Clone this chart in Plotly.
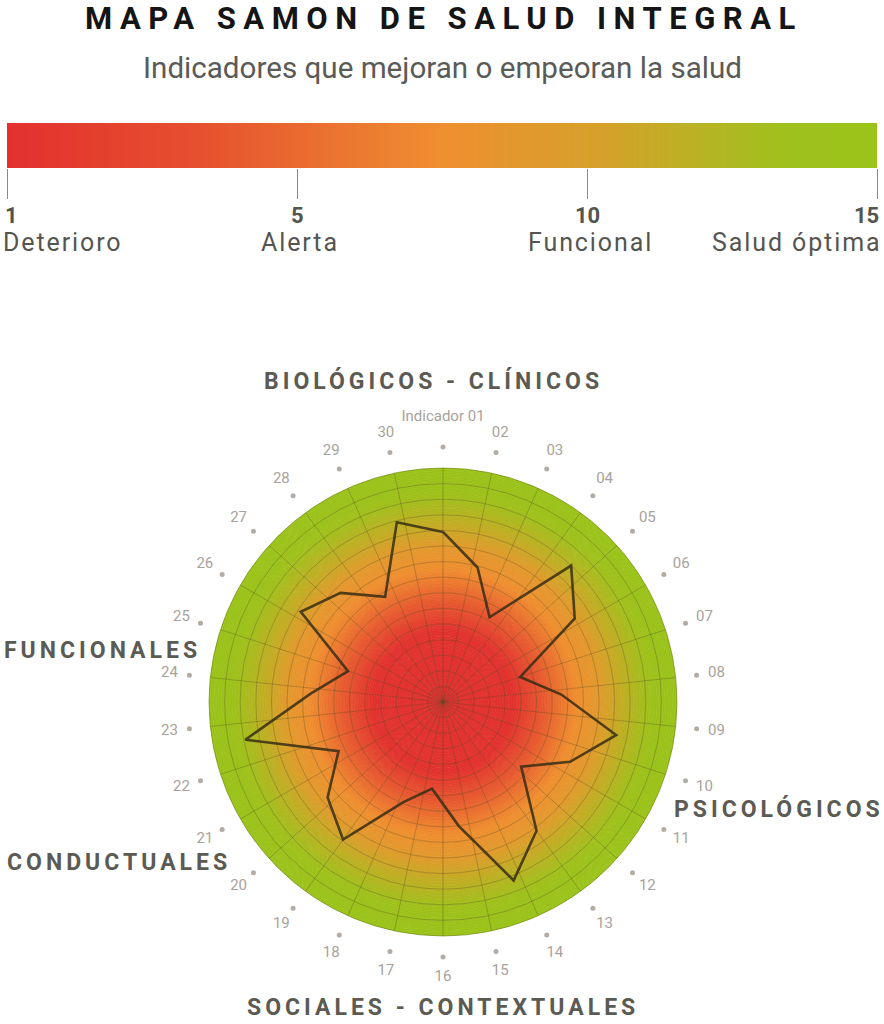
import numpy as np
import plotly.graph_objects as go

# ---------------- data ----------------
TITLE = "MAPA SAMON DE SALUD INTEGRAL"
SUBTITLE = "Indicadores que mejoran o empeoran la salud"

SCALE_TICKS = ["1", "5", "10", "15"]
SCALE_NAMES = ["Deterioro", "Alerta", "Funcional", "Salud óptima"]

INDICATOR_LABELS = ["Indicador 01", "02", "03", "04", "05", "06", "07", "08", "09", "10",
                    "11", "12", "13", "14", "15", "16", "17", "18", "19", "20",
                    "21", "22", "23", "24", "25", "26", "27", "28", "29", "30"]

SCORES = [10.9, 8.9, 6.2, 12.0, 10.0, 5.2, 7.6, 11.3, 9.0, 6.5,
          10.2, 12.3, 8.0, 5.6, 6.9, 10.9, 9.6, 7.4, 12.9, 8.5,
          6.4, 10.8, 9.6, 7.7, 11.9]

SECTIONS = ["BIOLÓGICOS - CLÍNICOS", "PSICOLÓGICOS", "SOCIALES - CONTEXTUALES",
            "CONDUCTUALES", "FUNCIONALES"]

R_MAX = 15
R_OUTER = 20   # range of the invisible label ring subplot

# ---------------- styling helpers ----------------
W, H = 884, 1024


def px(x):
    return x / W


def py(y):
    return 1 - y / H


def spaced(text, ls):
    return f'<span style="letter-spacing:{ls}px">{text}</span>'


FONT = "Roboto"
BAR_SCALE = [[0.0, "#E3302F"], [0.22, "#E6502F"], [0.5, "#EF8F30"],
             [0.68, "#D6A02A"], [0.8, "#B8B324"], [0.9, "#9EC21B"], [1.0, "#9BC31A"]]
POLAR_SCALE = [[0.0, "#E1302F"], [0.30, "#E2322F"], [0.43, "#E75A30"], [0.57, "#EF8E30"],
               [0.67, "#E29A2D"], [0.77, "#C0AE24"], [0.87, "#A2BF1C"], [0.92, "#9CC21A"],
               [1.0, "#9BC31A"]]

fig = go.Figure()

# ---------------- gradient bar (top) ----------------
n_cells = 300
edges = np.linspace(0, 1, n_cells + 1)
centers = (edges[:-1] + edges[1:]) / 2
fig.add_trace(go.Heatmap(
    x=edges, y=[0, 1], z=[centers], colorscale=BAR_SCALE, zmin=0, zmax=1,
    showscale=False, hoverinfo="skip", xaxis="x", yaxis="y"))

tick_pos = [i / (len(SCALE_TICKS) - 1) for i in range(len(SCALE_TICKS))]
anchors = ["left", "center", "center", "right"]
for pos, tk, nm, anc in zip(tick_pos, SCALE_TICKS, SCALE_NAMES, anchors):
    fig.add_annotation(x=pos, xref="x", y=py(215), yref="paper", text=tk,
                       showarrow=False, xanchor=anc, yanchor="middle",
                       xshift=-4 if anc == "left" else (4 if anc == "right" else 0),
                       font=dict(family=FONT, size=22, color="#555550", weight=700))
    fig.add_annotation(x=pos, xref="x", y=py(242), yref="paper",
                       text=spaced(nm, 1.9), showarrow=False, xanchor=anc, yanchor="middle",
                       xshift=-6 if anc == "left" else (6 if anc == "right" else 3),
                       font=dict(family=FONT, size=25, color="#555550"))

# ---------------- polar gradient disc ----------------
n_rings = 150
ring_w = R_MAX / n_rings
ring_base = []
ring_theta = []
ring_col = []
for i in range(n_rings):
    for th in (90, 270):
        ring_base.append(i * ring_w)
        ring_theta.append(th)
        ring_col.append((i + 0.5) * ring_w)
fig.add_trace(go.Barpolar(
    r=[ring_w] * len(ring_base), base=ring_base, theta=ring_theta, width=[180] * len(ring_base),
    marker=dict(color=ring_col, colorscale=POLAR_SCALE, cmin=0, cmax=R_MAX,
                line=dict(color=ring_col, colorscale=POLAR_SCALE, cmin=0, cmax=R_MAX, width=0.8)),
    hoverinfo="skip", subplot="polar", showlegend=False))

# ---------------- score line ----------------
n = len(SCORES)
theta_scores = [i * 360 / n for i in range(n)]
fig.add_trace(go.Scatterpolar(
    r=SCORES + SCORES[:1], theta=theta_scores + theta_scores[:1], mode="lines",
    line=dict(color="rgba(55,45,20,0.85)", width=2.6), subplot="polar2",
    hoverinfo="skip", showlegend=False))

# ---------------- indicator dots and labels (same px/unit, larger range) ----------------
cx, cy, rad = 443, 702, 234
m = len(INDICATOR_LABELS)
theta_lab = [i * 360 / m for i in range(m)]
r_dot = 255 / rad * R_MAX
r_lab = 275 / rad * R_MAX
r_lab0 = 285 / rad * R_MAX
fig.add_trace(go.Scatterpolar(
    r=[r_dot] * m, theta=theta_lab, mode="markers",
    marker=dict(size=5, color="#B3ACA5"), cliponaxis=False, subplot="polar3",
    hoverinfo="skip", showlegend=False))
fig.add_trace(go.Scatterpolar(
    r=[r_lab0] + [r_lab] * (m - 1), theta=theta_lab, mode="text", text=INDICATOR_LABELS,
    textposition="middle center", textfont=dict(family=FONT, size=15, color="#A8A29C"),
    cliponaxis=False, subplot="polar3", hoverinfo="skip", showlegend=False))

# ---------------- section labels ----------------
sec_pos = [
    (433, 381, "center"),
    (672, 809, "left"),
    (443, 1007, "center"),
    (5, 862, "left"),
    (2, 650.5, "left"),
]
for txt, (x, y, anc) in zip(SECTIONS, sec_pos):
    fig.add_annotation(x=px(x), y=py(y), xref="paper", yref="paper", text=spaced(txt, 4.0),
                       showarrow=False, xanchor=anc, yanchor="middle",
                       font=dict(family=FONT, size=23, color="#5B5A53", weight=700))

# ---------------- title ----------------
fig.add_annotation(x=px(444), y=py(18), xref="paper", yref="paper", text=spaced(TITLE, 7.5),
                   showarrow=False, xanchor="center", yanchor="middle",
                   font=dict(family=FONT, size=31, color="#151515", weight=700))
fig.add_annotation(x=px(442), y=py(68), xref="paper", yref="paper", text=SUBTITLE,
                   showarrow=False, xanchor="center", yanchor="middle",
                   font=dict(family=FONT, size=29.6, color="#5A5A57"))

# ---------------- layout ----------------
dom_x = [px(cx - rad), px(cx + rad)]
dom_y = [py(cy + rad), py(cy - rad)]
rad3 = rad * R_OUTER / R_MAX
dom3_x = [px(cx - rad3), px(cx + rad3)]
dom3_y = [py(cy + rad3), py(cy - rad3)]
grid_col = "rgba(85,75,35,0.33)"

fig.update_layout(
    width=W, height=H, margin=dict(l=0, r=0, t=0, b=0),
    paper_bgcolor="white", plot_bgcolor="white", showlegend=False,
    xaxis=dict(domain=[px(7), px(877)], range=[0, 1], tickvals=tick_pos, ticks="outside",
               ticklen=30, tickcolor="#8A8A8A", tickwidth=1, showticklabels=False,
               showgrid=False, zeroline=False, showline=False, fixedrange=True),
    yaxis=dict(domain=[py(168), py(123)], range=[0, 1], visible=False, fixedrange=True),
    polar=dict(
        domain=dict(x=dom_x, y=dom_y), bgcolor="rgba(0,0,0,0)", bargap=0,
        radialaxis=dict(range=[0, R_MAX], visible=False),
        angularaxis=dict(visible=False, rotation=90, direction="clockwise"),
    ),
    polar2=dict(
        domain=dict(x=dom_x, y=dom_y), bgcolor="rgba(0,0,0,0)",
        radialaxis=dict(range=[0, R_MAX], dtick=1, tick0=0, showticklabels=False, ticks="",
                        showline=False, gridcolor=grid_col, gridwidth=1),
        angularaxis=dict(rotation=90, direction="clockwise", dtick=360 / m, showticklabels=False,
                         ticks="", gridcolor=grid_col, gridwidth=1, showline=True,
                         linecolor="rgba(110,130,20,0.6)", linewidth=1),
    ),
    polar3=dict(
        domain=dict(x=dom3_x, y=dom3_y), bgcolor="rgba(0,0,0,0)",
        radialaxis=dict(range=[0, R_OUTER], visible=False),
        angularaxis=dict(visible=False, rotation=90, direction="clockwise"),
    ),
)

fig.write_html("out.html")
